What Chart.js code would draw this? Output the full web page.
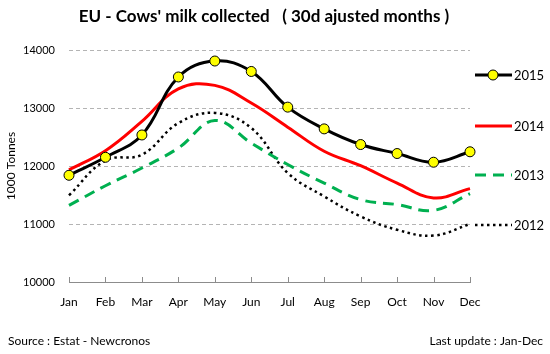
<!DOCTYPE html>
<html>
<head>
<meta charset="utf-8">
<script src="https://cdn.jsdelivr.net/npm/chart.js@4.4.1/dist/chart.umd.min.js"></script>
<style>
  html, body { margin: 0; padding: 0; background: #fff; }
  #wrap { width: 550px; height: 354px; position: relative; }
</style>
</head>
<body>
<div id="wrap"><canvas id="milkChart" width="550" height="354"></canvas></div>
<script>
const months = ['Jan', 'Feb', 'Mar', 'Apr', 'May', 'Jun', 'Jul', 'Aug', 'Sep', 'Oct', 'Nov', 'Dec'];
const yTicks = [10000, 11000, 12000, 13000, 14000];
const milk2015 = [11840, 12150, 12535, 13535, 13810, 13630, 13015, 12640, 12370, 12215, 12065, 12245];
const milk2014 = [11935, 12265, 12770, 13330, 13390, 13085, 12670, 12255, 12005, 11705, 11450, 11610];
const milk2013 = [11320, 11660, 11965, 12310, 12785, 12395, 12025, 11705, 11420, 11335, 11235, 11525];
const milk2012 = [11495, 12095, 12195, 12740, 12915, 12655, 11880, 11475, 11130, 10900, 10800, 11000];

const FONT = 'Lato, "Open Sans", sans-serif';

// Title, footer, inward tick marks and the legend on the right
const decorations = {
    id: 'decorations',
    beforeDatasetsDraw(chart) {
        const { ctx } = chart;
        const x = chart.scales.x;
        const bottom = chart.chartArea.bottom;
        ctx.save();
        ctx.strokeStyle = '#8c8c8c';
        ctx.lineWidth = 1;
        x.ticks.forEach((t, i) => {
            const px = Math.round(x.getPixelForTick(i)) + 0.5;
            ctx.beginPath();
            ctx.moveTo(px, bottom);
            ctx.lineTo(px, bottom - 5);
            ctx.stroke();
        });
        ctx.restore();
    },
    afterDraw(chart) {
        const { ctx } = chart;
        ctx.save();
        ctx.fillStyle = '#000';
        ctx.textBaseline = 'middle';

        ctx.font = 'bold 17px ' + FONT;
        ctx.textAlign = 'center';
        ctx.fillText("EU - Cows' milk collected   ( 30d ajusted months )", 264, 17);

        ctx.font = '12px ' + FONT;
        ctx.textAlign = 'left';
        ctx.fillText('Source : Estat - Newcronos', 8, 341);
        ctx.textAlign = 'right';
        ctx.fillText('Last update : Jan-Dec', 543, 341);

        // legend
        const legendY = [75, 126, 175, 225];
        chart.data.datasets.forEach((ds, i) => {
            const y = legendY[i];
            ctx.save();
            ctx.strokeStyle = ds.borderColor;
            ctx.lineWidth = ds.borderWidth;
            ctx.setLineDash(ds.borderDash || []);
            ctx.beginPath();
            ctx.moveTo(475, y);
            ctx.lineTo(512, y);
            ctx.stroke();
            ctx.restore();
            if (ds.pointRadius > 0) {
                ctx.beginPath();
                ctx.arc(493, y, ds.pointRadius, 0, Math.PI * 2);
                ctx.fillStyle = ds.pointBackgroundColor;
                ctx.fill();
                ctx.lineWidth = 1;
                ctx.strokeStyle = ds.pointBorderColor;
                ctx.stroke();
            }
            ctx.fillStyle = '#000';
            ctx.font = '13px ' + FONT;
            ctx.textAlign = 'left';
            ctx.fillText(ds.label, 514, y + 1);
        });
        ctx.restore();
    }
};

const ctx = document.getElementById('milkChart').getContext('2d');
new Chart(ctx, {
    type: 'line',
    data: {
        labels: months,
        datasets: [
            {
                label: '2015',
                data: milk2015,
                borderColor: '#000000',
                borderWidth: 3,
                pointRadius: 5,
                pointBackgroundColor: '#ffff00',
                pointBorderColor: '#000000',
                pointBorderWidth: 1,
                tension: 0.4,
                order: 0
            },
            {
                label: '2014',
                data: milk2014,
                borderColor: '#ff0000',
                borderWidth: 3,
                pointRadius: 0,
                tension: 0.4,
                order: 1
            },
            {
                label: '2013',
                data: milk2013,
                borderColor: '#00b050',
                borderWidth: 3,
                borderDash: [11, 7],
                pointRadius: 0,
                tension: 0.4,
                order: 2
            },
            {
                label: '2012',
                data: milk2012,
                borderColor: '#000000',
                borderWidth: 2.5,
                borderDash: [2.5, 3.5],
                pointRadius: 0,
                tension: 0.4,
                order: 3
            }
        ]
    },
    options: {
        responsive: false,
        animation: false,
        layout: { padding: { top: 50, right: 80, left: 0, bottom: 0 } },
        plugins: {
            legend: { display: false },
            title: { display: false },
            tooltip: { enabled: false }
        },
        scales: {
            x: {
                offset: false,
                grid: { display: false, drawTicks: false },
                border: { display: true, color: '#8c8c8c', width: 1 },
                ticks: {
                    color: '#000',
                    font: { family: FONT, size: 12 },
                    padding: 13,
                    maxRotation: 0,
                    autoSkip: false
                },
                afterFit(scale) { scale.height = 72; }
            },
            y: {
                min: yTicks[0],
                max: yTicks[yTicks.length - 1],
                afterBuildTicks(scale) { scale.ticks = yTicks.map(v => ({ value: v })); },
                grid: { color: '#b4b4b4', drawTicks: false },
                border: { display: false, dash: [4, 3] },
                ticks: {
                    color: '#000',
                    font: { family: FONT, size: 11 },
                    padding: 14,
                    callback: (v) => String(v)
                },
                title: {
                    display: true,
                    text: '1000 Tonnes',
                    color: '#000',
                    font: { family: FONT, size: 12 },
                    padding: { top: 4, bottom: 0 }
                },
                afterFit(scale) { scale.width = 69; }
            }
        }
    },
    plugins: [decorations]
});
</script>
</body>
</html>
